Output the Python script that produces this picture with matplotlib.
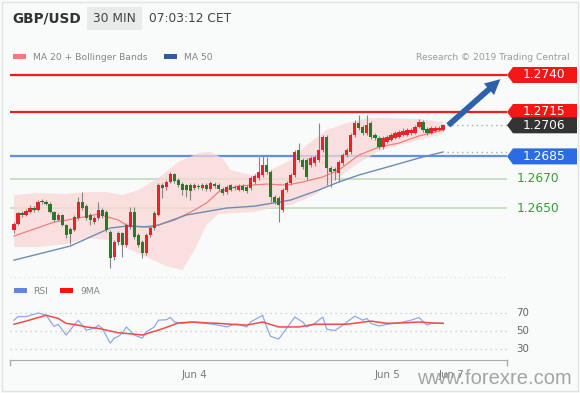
import matplotlib
matplotlib.use("Agg")
import matplotlib.pyplot as plt
import numpy as np
from matplotlib.patches import Polygon, Rectangle

# GBP/USD 30 min candles, oldest first
opens = [1.26352, 1.26393, 1.26467, 1.26454, 1.26474, 1.26501, 1.26487, 1.26542, 1.26542, 1.26528, 1.26474, 1.26420,
         1.26454, 1.26386, 1.26359, 1.26352, 1.26433, 1.26542, 1.26514, 1.26454, 1.26406, 1.26433, 1.26487, 1.26474,
         1.26339, 1.26170, 1.26271, 1.26332, 1.26251, 1.26373, 1.26474, 1.26318, 1.26271, 1.26197, 1.26318, 1.26366,
         1.26454, 1.26656, 1.26643, 1.26677, 1.26731, 1.26690, 1.26663, 1.26656, 1.26656, 1.26636, 1.26650, 1.26636,
         1.26656, 1.26629, 1.26663, 1.26656, 1.26629, 1.26609, 1.26656, 1.26636, 1.26623, 1.26650, 1.26643, 1.26636,
         1.26677, 1.26704, 1.26724, 1.26792, 1.26744, 1.26575, 1.26569, 1.26487, 1.26623, 1.26670, 1.26724, 1.26893,
         1.26825, 1.26825, 1.26792, 1.26805, 1.26825, 1.26893, 1.26981, 1.26771, 1.26765, 1.26738, 1.26805, 1.26859,
         1.26880, 1.26994, 1.27076, 1.27049, 1.27008, 1.27076, 1.26994, 1.26974, 1.26913, 1.26947, 1.26961, 1.26974,
         1.26981, 1.26994, 1.26994, 1.27008, 1.27008, 1.27049, 1.27082, 1.27035, 1.27008, 1.27021, 1.27028, 1.27028]
highs = [1.26406, 1.26474, 1.26481, 1.26494, 1.26521, 1.26514, 1.26555, 1.26562, 1.26555, 1.26542, 1.26481, 1.26467,
         1.26460, 1.26393, 1.26373, 1.26454, 1.26575, 1.26609, 1.26528, 1.26467, 1.26447, 1.26542, 1.26501, 1.26487,
         1.26352, 1.26285, 1.26345, 1.26339, 1.26400, 1.26508, 1.26508, 1.26332, 1.26285, 1.26332, 1.26379, 1.26481,
         1.26670, 1.26670, 1.26690, 1.26744, 1.26738, 1.26704, 1.26677, 1.26663, 1.26670, 1.26670, 1.26663, 1.26670,
         1.26670, 1.26683, 1.26677, 1.26670, 1.26643, 1.26656, 1.26663, 1.26656, 1.26663, 1.26663, 1.26656, 1.26717,
         1.26731, 1.26846, 1.26859, 1.26846, 1.26758, 1.26589, 1.26582, 1.26636, 1.26683, 1.26738, 1.26893, 1.26940,
         1.26839, 1.26839, 1.26852, 1.26859, 1.27076, 1.26994, 1.26994, 1.26785, 1.26778, 1.26825, 1.26873, 1.26907,
         1.27008, 1.27096, 1.27130, 1.27062, 1.27130, 1.27089, 1.27008, 1.26988, 1.26988, 1.26994, 1.27008, 1.27021,
         1.27028, 1.27042, 1.27042, 1.27042, 1.27062, 1.27103, 1.27096, 1.27049, 1.27055, 1.27055, 1.27055, 1.27068]
lows = [1.26332, 1.26386, 1.26440, 1.26447, 1.26467, 1.26474, 1.26481, 1.26528, 1.26521, 1.26467, 1.26406, 1.26413,
        1.26379, 1.26298, 1.26258, 1.26345, 1.26420, 1.26487, 1.26420, 1.26386, 1.26393, 1.26420, 1.26433, 1.26339,
        1.26095, 1.26149, 1.26251, 1.26170, 1.26237, 1.26359, 1.26291, 1.26237, 1.26163, 1.26183, 1.26305, 1.26352,
        1.26447, 1.26569, 1.26623, 1.26670, 1.26670, 1.26643, 1.26589, 1.26575, 1.26555, 1.26623, 1.26629, 1.26623,
        1.26616, 1.26616, 1.26636, 1.26616, 1.26589, 1.26596, 1.26616, 1.26623, 1.26616, 1.26616, 1.26602, 1.26623,
        1.26663, 1.26690, 1.26711, 1.26731, 1.26542, 1.26528, 1.26406, 1.26474, 1.26609, 1.26656, 1.26711, 1.26812,
        1.26765, 1.26690, 1.26778, 1.26785, 1.26812, 1.26880, 1.26656, 1.26643, 1.26690, 1.26677, 1.26792, 1.26846,
        1.26866, 1.26981, 1.27028, 1.26994, 1.26994, 1.26967, 1.26961, 1.26900, 1.26900, 1.26940, 1.26954, 1.26967,
        1.26974, 1.26988, 1.26988, 1.26994, 1.27001, 1.27042, 1.27015, 1.26994, 1.27001, 1.27015, 1.27021, 1.27021]
closes = [1.26393, 1.26467, 1.26454, 1.26481, 1.26501, 1.26487, 1.26542, 1.26548, 1.26528, 1.26474, 1.26420, 1.26454,
          1.26386, 1.26318, 1.26325, 1.26440, 1.26542, 1.26501, 1.26433, 1.26420, 1.26433, 1.26487, 1.26447, 1.26352,
          1.26163, 1.26271, 1.26332, 1.26251, 1.26386, 1.26474, 1.26305, 1.26251, 1.26197, 1.26318, 1.26366, 1.26467,
          1.26656, 1.26636, 1.26677, 1.26731, 1.26683, 1.26656, 1.26623, 1.26623, 1.26616, 1.26656, 1.26643, 1.26656,
          1.26629, 1.26670, 1.26650, 1.26629, 1.26602, 1.26643, 1.26623, 1.26643, 1.26650, 1.26623, 1.26616, 1.26704,
          1.26717, 1.26744, 1.26792, 1.26744, 1.26575, 1.26542, 1.26521, 1.26623, 1.26670, 1.26724, 1.26880, 1.26825,
          1.26778, 1.26711, 1.26839, 1.26846, 1.26893, 1.26981, 1.26771, 1.26744, 1.26751, 1.26812, 1.26859, 1.26893,
          1.26994, 1.27076, 1.27042, 1.27008, 1.27062, 1.26981, 1.26974, 1.26913, 1.26974, 1.26981, 1.26994, 1.27008,
          1.27015, 1.27021, 1.27028, 1.27028, 1.27049, 1.27082, 1.27028, 1.27008, 1.27042, 1.27042, 1.27042, 1.27060]

# indicator lines, read at a few candles
ma20_idx = [0, 10, 16, 21, 26, 28, 32, 36, 40, 45, 48, 51, 56, 63, 68, 72, 77, 81, 86, 91, 96, 101, 107]
ma20 = [1.26312, 1.26406, 1.26433, 1.26460, 1.26420, 1.26386, 1.26373, 1.26386, 1.26420, 1.26487, 1.26535, 1.26609,
        1.26650, 1.26663, 1.26656, 1.26677, 1.26711, 1.26758, 1.26859, 1.26913, 1.26940, 1.26988, 1.27028]
upper_idx = [0, 6, 13, 18, 23, 27, 31, 36, 41, 46, 49, 52, 54, 59, 64, 69, 73, 78, 83, 88, 94, 101, 107]
upper = [1.26589, 1.26602, 1.26596, 1.26609, 1.26609, 1.26589, 1.26623, 1.26704, 1.26812, 1.26873, 1.26880, 1.26839,
         1.26758, 1.26724, 1.26758, 1.26825, 1.26927, 1.27028, 1.27076, 1.27109, 1.27109, 1.27103, 1.27082]
lower_idx = [0, 6, 13, 18, 24, 28, 33, 38, 42, 45, 48, 51, 55, 60, 64, 69, 75, 80, 86, 91, 96, 101, 107]
lower = [1.26237, 1.26237, 1.26258, 1.26298, 1.26285, 1.26231, 1.26170, 1.26109, 1.26082, 1.26217, 1.26386, 1.26460,
         1.26467, 1.26474, 1.26501, 1.26521, 1.26589, 1.26690, 1.26805, 1.26886, 1.26927, 1.26961, 1.27001]
ma50_idx = [0, 14, 24, 28, 34, 36, 43, 53, 60, 69, 76, 81, 86, 94, 101, 107]
ma50 = [1.26149, 1.26244, 1.26366, 1.26379, 1.26373, 1.26386, 1.26454, 1.26501, 1.26514, 1.26555, 1.26623, 1.26677,
        1.26724, 1.26785, 1.26839, 1.26880]

rsi_idx = [0, 1, 3, 6, 7, 8, 10, 11, 13, 14, 16, 17, 18, 20, 21, 22, 24, 25, 26, 27, 28, 30, 32, 33, 35, 36, 38, 39,
           40, 42, 44, 46, 48, 51, 53, 55, 56, 58, 59, 62, 63, 64, 66, 68, 70, 72, 73, 75, 77, 78, 80, 82, 85, 87, 88,
           89, 91, 93, 95, 97, 99, 101, 103, 104, 107]
rsi = [62, 66, 66, 70, 69, 67.5, 55, 57.5, 45.5, 51, 62, 56.5, 51, 53, 56.5, 53, 36.5, 42, 44, 47.5, 54.5, 45.5, 42, 49,
       54.5, 62, 62.5, 65, 60, 58.5, 60, 59, 58.5, 56.5, 54.5, 57.5, 57.5, 54.5, 60, 67.5, 54.5, 44, 41, 53, 65.5, 60,
       54.5, 58.5, 65.5, 52, 50.5, 56.5, 66.5, 62, 64, 58.5, 55.5, 57.5, 58.5, 60, 62, 65, 56.5, 58.5, 58.5]
rsi_ma_idx = [0, 3, 8, 11, 13, 16, 18, 21, 26, 30, 32, 36, 38, 41, 45, 48, 51, 54, 58, 62, 66, 71, 75, 79, 83, 89,
              93, 97, 101, 104, 107]
rsi_ma = [57.5, 61, 67.5, 64, 58.5, 56.5, 54.5, 53, 48, 46.5, 45.5, 51, 54, 59, 60, 59, 58.5, 57.5, 56.5, 60, 54.5,
          54.5, 57.5, 57.5, 57.5, 61, 58.5, 59, 60, 59, 58.5]

day_idx = [45, 93, 109]
day_labels = ["Jun 4", "Jun 5", "Jun 7"]

resist = [1.2740, 1.2715]
pivot = 1.2685
supports = [1.2670, 1.2650]
last_price = 1.2706
ma50_last = 1.2688

W, H = 580, 393
fig = plt.figure(figsize=(W / 100, H / 100), dpi=100, facecolor="#f9fafa")
fig.add_artist(Rectangle((0.003, 0.004), 0.994, 0.992, transform=fig.transFigure,
                         fill=False, ec="#e2e4e4", lw=1))


def fbox(x0, y0, x1, y1):
    # pixel box (top-left origin) -> figure fraction rect
    return [x0 / W, 1 - y1 / H, (x1 - x0) / W, (y1 - y0) / H]


xlim = ((10 - 14) / 4.01, (507 - 14) / 4.01)

# ---- header
fig.text(12 / W, 1 - 19 / H, "GBP/USD", fontsize=9.8, weight="bold", color="#333333", va="center")
fig.add_artist(Rectangle((87 / W, 1 - 30 / H), 55 / W, 23 / H, transform=fig.transFigure,
                         fc="#e9eaea", ec="none"))
fig.text(114.5 / W, 1 - 19 / H, "30 MIN", fontsize=8.8, color="#444444", va="center", ha="center")
fig.text(149 / W, 1 - 19 / H, "07:03:12 CET", fontsize=8.8, color="#444444", va="center")

fig.add_artist(Rectangle((13 / W, 1 - 59 / H), 13 / W, 5 / H, transform=fig.transFigure, fc="#f07b7b", ec="none"))
fig.text(33 / W, 1 - 57 / H, "MA 20 + Bollinger Bands", fontsize=6.6, color="#858585", va="center")
fig.add_artist(Rectangle((164 / W, 1 - 59 / H), 13 / W, 5 / H, transform=fig.transFigure, fc="#2f5e9e", ec="none"))
fig.text(184 / W, 1 - 57 / H, "MA 50", fontsize=6.6, color="#858585", va="center")
fig.text(570 / W, 1 - 57 / H, "Research \u00a9 2019 Trading Central", fontsize=6.6, color="#9a9a9a",
         va="center", ha="right")

# ---- price panel
ax = fig.add_axes(fbox(10, 65, 507, 280))
ax.set_xlim(*xlim)
ax.set_ylim(1.2740 - (280 - 75) / 14800, 1.2740 + 10 / 14800)
ax.axis("off")

for lv in resist:
    ax.axhline(lv, color="#f01c1c", lw=1.6, zorder=1)
ax.axhline(pivot, color="#5d8ef0", lw=1.6, zorder=1)
for lv in supports:
    ax.axhline(lv, color="#b7dbb2", lw=1.1, zorder=1)
ax.axhline(ax.get_ylim()[0] + 3 / 14800, color="#dddddd", lw=0.8, ls=(0, (1, 3)), zorder=1)

x_end = len(closes) - 1
ax.hlines([last_price, ma50_last], x_end + 1, xlim[1], color="#aaaaaa", lw=1, ls=(0, (1, 2.5)), zorder=1)

bx = np.r_[upper_idx, lower_idx[::-1]]
by = np.r_[upper, lower[::-1]]
ax.fill(bx, by, color="#fbd6d6", alpha=0.75, lw=0, zorder=2)
ax.plot(ma20_idx, ma20, color="#f07f7f", lw=0.9, zorder=3)
ax.plot(ma50_idx, ma50, color="#6d8cb5", lw=1.0, zorder=3)

o, h, l, c = map(np.array, (opens, highs, lows, closes))
x = np.arange(len(c))
up = c >= o
ax.vlines(x, l, h, color="#858585", lw=0.8, zorder=4)
body = np.maximum(np.abs(c - o), 1.2 / 14800)
ax.bar(x, body, bottom=np.minimum(o, c), width=0.8,
       color=np.where(up, "#e8232b", "#2b7a2b"), lw=0, zorder=5)

ax.annotate("", xy=(121.3, 1.27372), xytext=(108.3, last_price),
            arrowprops=dict(arrowstyle="simple,head_length=1.0,head_width=1.0,tail_width=0.38",
                            color="#2d62aa", mutation_scale=11, lw=0, shrinkA=0, shrinkB=0), zorder=6)

fig.canvas.draw()


def ypix(price):
    return ax.transData.transform((0, price))[1]


def tag(price, color, text):
    yp = ypix(price)
    pts = [[507, yp], [513, yp + 8], [577, yp + 8], [577, yp - 8], [513, yp - 8]]
    fig.add_artist(Polygon(pts, closed=True, transform=None, fc=color, ec="none"))
    fig.text(544 / W, yp / H, text, fontsize=8.8, color="white", ha="center", va="center")


for lv in resist:
    tag(lv, "#f51616", f"{lv:.4f}")
tag(last_price, "#333333", f"{last_price:.4f}")
tag(pivot, "#2c6ce2", f"{pivot:.4f}")
for lv in supports:
    fig.text(517 / W, ypix(lv) / H, f"{lv:.4f}", fontsize=8.8, color="#3a9a3a", va="center")

# ---- RSI panel
fig.add_artist(Rectangle((14 / W, 1 - 293 / H), 13 / W, 5 / H, transform=fig.transFigure, fc="#5f85de", ec="none"))
fig.text(33 / W, 1 - 291 / H, "RSI", fontsize=6.6, color="#858585", va="center")
fig.add_artist(Rectangle((60 / W, 1 - 293 / H), 13 / W, 5 / H, transform=fig.transFigure, fc="#ff1010", ec="none"))
fig.text(80 / W, 1 - 291 / H, "9MA", fontsize=6.6, color="#858585", va="center")

rx = fig.add_axes(fbox(10, 300, 507, 360))
rx.set_xlim(*xlim)
rx.set_ylim(50 - 29 / 0.9, 70 + 13 / 0.9)
rx.set_facecolor("none")
for s in ("top", "left", "right"):
    rx.spines[s].set_visible(False)
rx.spines["bottom"].set_color("#aaaaaa")
rx.hlines([30, 50, 70], xlim[0], xlim[1], color="#c4c4c4", lw=0.9, ls=(0, (1, 3)))
rx.plot(rsi_idx, rsi, color="#8fa9ea", lw=0.9)
rx.plot(rsi_ma_idx, rsi_ma, color="#f24a4a", lw=1.1)
for xa in (0, 1):
    rx.plot([xa, xa], [0, -0.08], transform=rx.transAxes, color="#aaaaaa", lw=1, clip_on=False)
rx.set_yticks([])
rx.set_xticks(day_idx)
rx.set_xticklabels(day_labels, fontsize=7.4, color="#7a7a7a")
rx.tick_params(axis="x", length=0, pad=7)
for v in (70, 50, 30):
    fig.text(516 / W, 1 - (313 + (70 - v) * 0.9) / H, str(v), fontsize=7.4, color="#666666", va="center")

# site watermark, drawn over the last date label as in the source
fig.text(572 / W, 1 - 379 / H, "www.forexre.com", fontsize=14.5, color="#8f8f8f", alpha=0.8,
         ha="right", va="center", family="Liberation Sans")

fig.savefig("out.png", dpi=100, facecolor=fig.get_facecolor())
